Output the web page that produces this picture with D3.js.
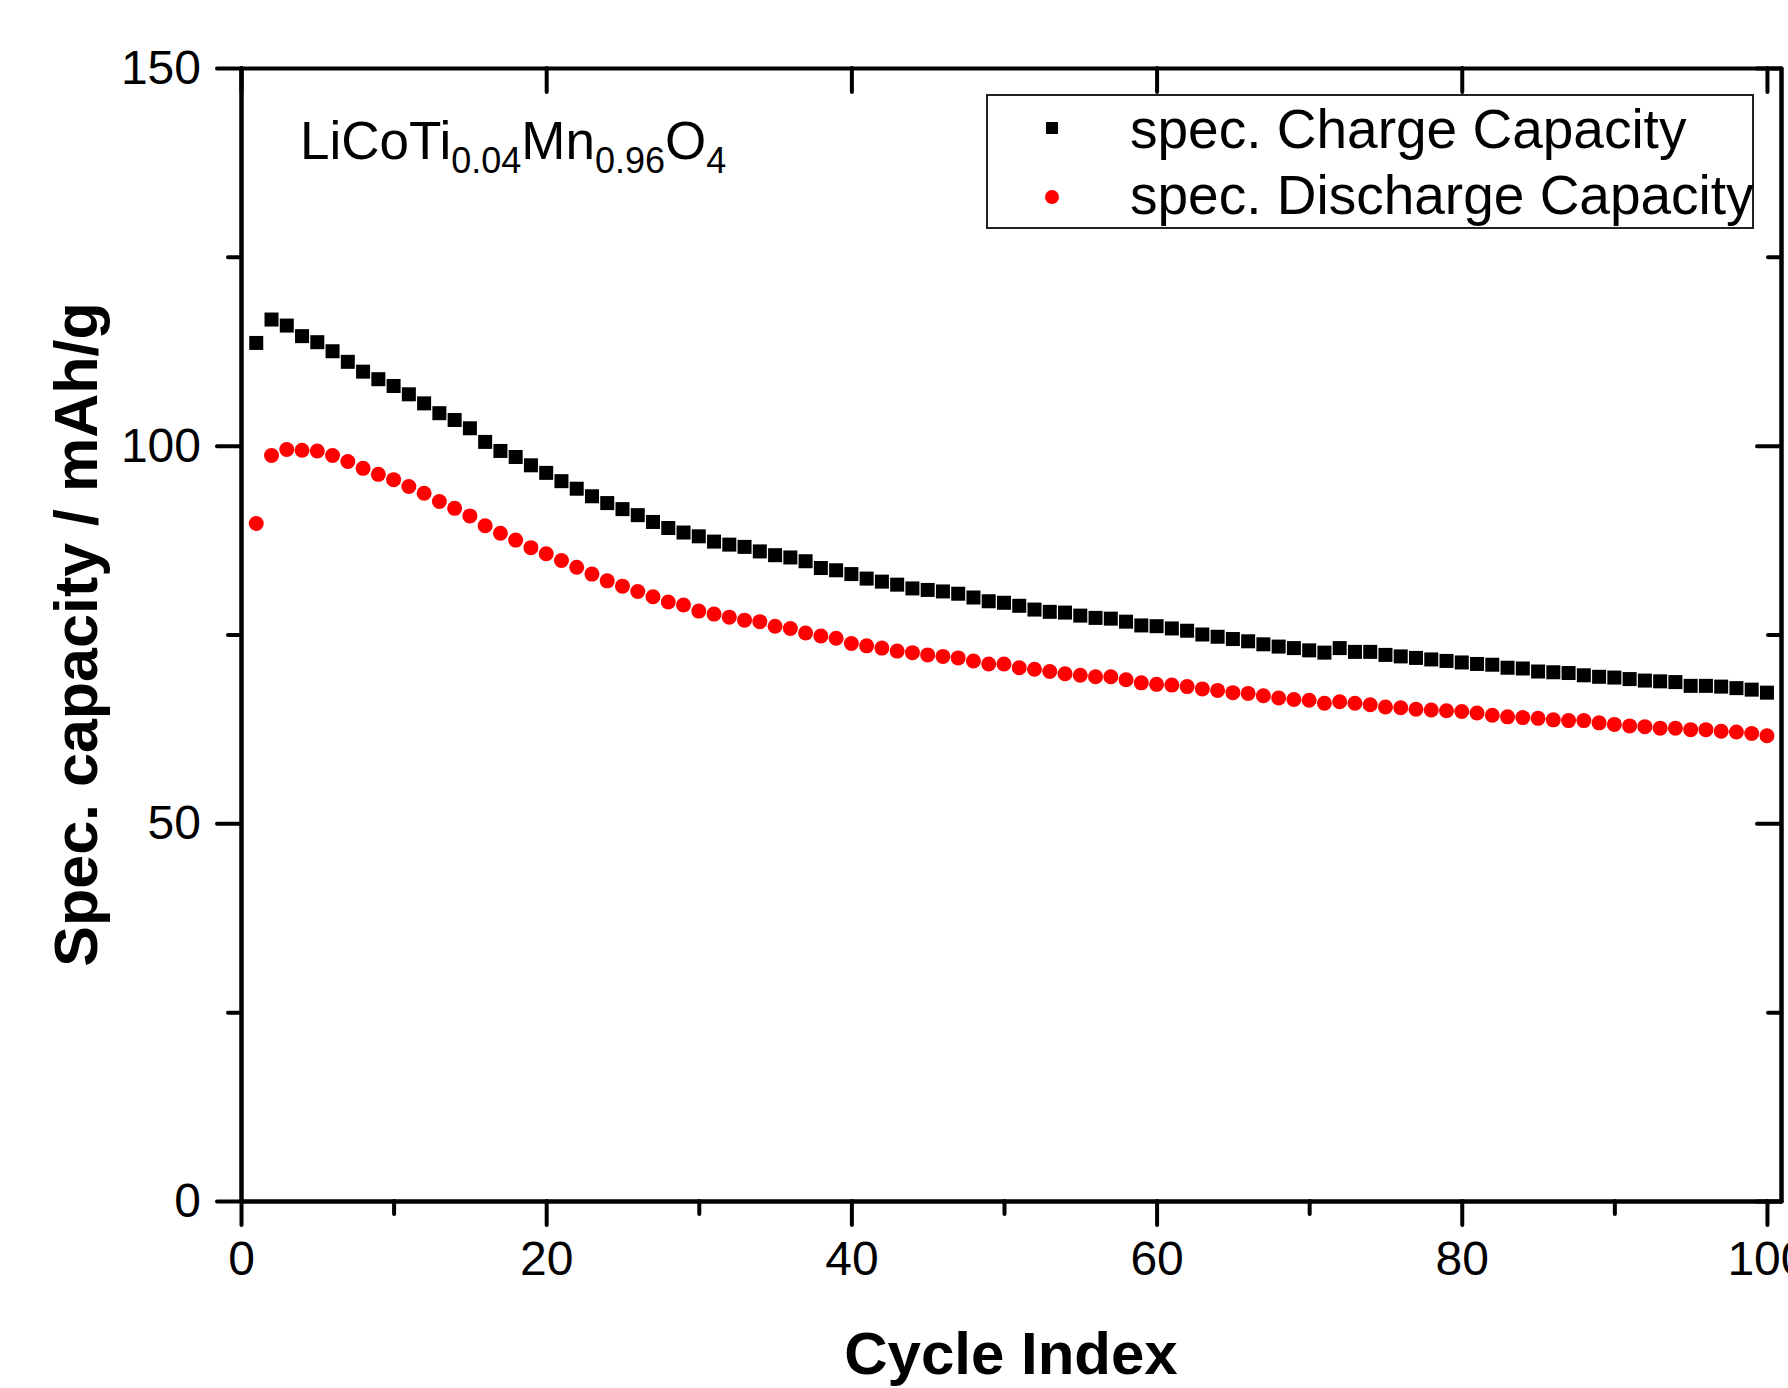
<!DOCTYPE html>
<html lang="en">
  <head>
    <meta charset="utf-8">
    <title>Cycle capacity</title>
    <script src="https://cdn.jsdelivr.net/npm/d3@7"></script>
  </head>
  <style type="text/css">
    body { margin: 0; background: white; }
    text { font-family: "Liberation Sans", Arial, sans-serif; fill: black; }
    .axis path, .axis line { stroke: black; stroke-width: 4; stroke-linecap: round; }
    .axis text { font-size: 48px; font-family: "Liberation Sans", Arial, sans-serif; }
  </style>
  <body>
    <div id="svg-area"></div>
    <script>
      // cycle index 1..100
      const cycles = d3.range(1, 101);

      const charge = [
        113.6,116.7,115.9,114.5,113.7,112.5,111.1,109.8,108.8,107.9,
        106.8,105.6,104.3,103.4,102.3,100.5,99.3,98.5,97.4,96.4,
        95.3,94.3,93.3,92.4,91.6,90.8,89.9,89.1,88.5,88.0,
        87.3,86.9,86.6,86.0,85.5,85.2,84.7,83.8,83.5,83.0,
        82.4,82.0,81.6,81.1,80.9,80.7,80.4,79.9,79.4,79.2,
        78.8,78.3,78.0,77.9,77.5,77.2,77.1,76.7,76.2,76.1,
        75.8,75.5,75.0,74.7,74.4,74.1,73.7,73.4,73.2,72.9,
        72.6,73.2,72.7,72.7,72.3,72.1,71.9,71.7,71.5,71.3,
        71.1,71.0,70.6,70.5,70.1,70.0,69.9,69.6,69.4,69.3,
        69.1,68.9,68.8,68.7,68.2,68.2,68.1,67.9,67.7,67.3
      ];

      const discharge = [
        89.7,98.7,99.5,99.4,99.3,98.7,97.9,97.0,96.2,95.5,
        94.6,93.7,92.6,91.7,90.7,89.4,88.4,87.5,86.5,85.7,
        84.8,83.9,83.0,82.1,81.4,80.7,80.0,79.3,78.9,78.1,
        77.7,77.3,76.9,76.7,76.1,75.8,75.2,74.8,74.5,73.8,
        73.5,73.2,72.8,72.6,72.3,72.1,71.9,71.5,71.1,71.1,
        70.6,70.4,70.1,69.8,69.6,69.4,69.4,69.0,68.6,68.4,
        68.3,68.1,67.8,67.6,67.3,67.2,66.9,66.6,66.4,66.3,
        65.9,66.1,65.9,65.7,65.4,65.3,65.1,65.0,64.9,64.8,
        64.6,64.3,64.1,64.0,63.9,63.7,63.6,63.6,63.3,63.1,
        62.9,62.8,62.6,62.6,62.4,62.4,62.2,62.1,61.9,61.6
      ];

      const x_major = [0, 20, 40, 60, 80, 100];
      const x_minor = [10, 30, 50, 70, 90];
      const y_major = [0, 50, 100, 150];
      const y_minor = [25, 75, 125];
      const legend_labels = ['spec. Charge Capacity', 'spec. Discharge Capacity'];

      const svg_width = 1788;
      const svg_height = 1388;
      const margin = {left: 241, top: 68, right: 7, bottom: 187};
      const plot_w = svg_width - margin.left - margin.right;
      const plot_h = svg_height - margin.top - margin.bottom;

      const x = d3.scaleLinear().domain([0, 100.92]).range([0, plot_w]);
      const y = d3.scaleLinear().domain([0, 150]).range([plot_h, 0]);

      const svg = d3.select('#svg-area')
        .append('svg')
        .attr('width', svg_width)
        .attr('height', svg_height);

      const g = svg.append('g')
        .attr('transform', `translate(${margin.left},${margin.top})`);

      //bottom axis: major with labels, minor without
      g.append('g').attr('class', 'axis')
        .attr('transform', `translate(0,${plot_h})`)
        .call(d3.axisBottom(x).tickValues(x_major).tickSizeInner(24).tickSizeOuter(0).tickPadding(16));
      g.append('g').attr('class', 'axis')
        .attr('transform', `translate(0,${plot_h})`)
        .call(d3.axisBottom(x).tickValues(x_minor).tickFormat('').tickSizeInner(13).tickSizeOuter(0));

      //left axis
      g.append('g').attr('class', 'axis')
        .call(d3.axisLeft(y).tickValues(y_major).tickSizeInner(24).tickSizeOuter(0).tickPadding(16));
      g.append('g').attr('class', 'axis')
        .call(d3.axisLeft(y).tickValues(y_minor).tickFormat('').tickSizeInner(13).tickSizeOuter(0));

      //top axis, ticks inward, majors only
      g.append('g').attr('class', 'axis')
        .call(d3.axisTop(x).tickValues(x_major).tickFormat('').tickSizeInner(-24).tickSizeOuter(0));

      //right axis, ticks inward
      g.append('g').attr('class', 'axis')
        .attr('transform', `translate(${plot_w},0)`)
        .call(d3.axisRight(y).tickValues(y_major).tickFormat('').tickSizeInner(-24).tickSizeOuter(0));
      g.append('g').attr('class', 'axis')
        .attr('transform', `translate(${plot_w},0)`)
        .call(d3.axisRight(y).tickValues(y_minor).tickFormat('').tickSizeInner(-13).tickSizeOuter(0));

      g.selectAll('.axis .domain').attr('stroke-linecap', 'square');

      //charge points (squares)
      const sq = 14;
      g.selectAll('rect.charge')
        .data(cycles)
        .enter()
        .append('rect')
        .attr('class', 'charge')
        .attr('x', (d) => x(d) - sq / 2)
        .attr('y', (d, i) => y(charge[i]) - sq / 2)
        .attr('width', sq)
        .attr('height', sq)
        .attr('fill', 'black');

      //discharge points (circles)
      g.selectAll('circle.discharge')
        .data(cycles)
        .enter()
        .append('circle')
        .attr('class', 'discharge')
        .attr('cx', (d) => x(d))
        .attr('cy', (d, i) => y(discharge[i]))
        .attr('r', 7.5)
        .attr('fill', 'red');

      //compound label
      const label = svg.append('text')
        .attr('x', 300)
        .attr('y', 159)
        .style('font-size', '53px');
      const parts = [['LiCoTi', false], ['0.04', true], ['Mn', false], ['0.96', true], ['O', false], ['4', true]];
      let shifted = false;
      parts.forEach(([t, sub]) => {
        let dy = 0;
        if (sub && !shifted) { dy = 14; shifted = true; }
        if (!sub && shifted) { dy = -14; shifted = false; }
        label.append('tspan')
          .attr('dy', dy)
          .style('font-size', sub ? '36px' : '53px')
          .text(t);
      });

      //legend
      const legend = svg.append('g');
      legend.append('rect')
        .attr('x', 987).attr('y', 95)
        .attr('width', 766).attr('height', 133)
        .attr('fill', 'white')
        .attr('stroke', '#222')
        .attr('stroke-width', 2);
      legend.append('rect')
        .attr('x', 1052 - 6).attr('y', 128 - 6)
        .attr('width', 12).attr('height', 12)
        .attr('fill', 'black');
      legend.append('circle')
        .attr('cx', 1052).attr('cy', 197).attr('r', 7)
        .attr('fill', 'red');
      legend.selectAll('text.leg')
        .data(legend_labels)
        .enter()
        .append('text')
        .attr('class', 'leg')
        .attr('x', 1130)
        .attr('y', (d, i) => i === 0 ? 148 : 214)
        .style('font-size', '55px')
        .text((d) => d);

      //axis titles
      svg.append('text')
        .attr('x', margin.left + plot_w / 2)
        .attr('y', 1374)
        .attr('text-anchor', 'middle')
        .style('font-size', '60px')
        .style('font-weight', 'bold')
        .text('Cycle Index');

      svg.append('text')
        .attr('transform', `translate(97,${margin.top + plot_h / 2}) rotate(-90)`)
        .attr('text-anchor', 'middle')
        .style('font-size', '61px')
        .style('font-weight', 'bold')
        .text('Spec. capacity / mAh/g');
    </script>
  </body>
</html>
